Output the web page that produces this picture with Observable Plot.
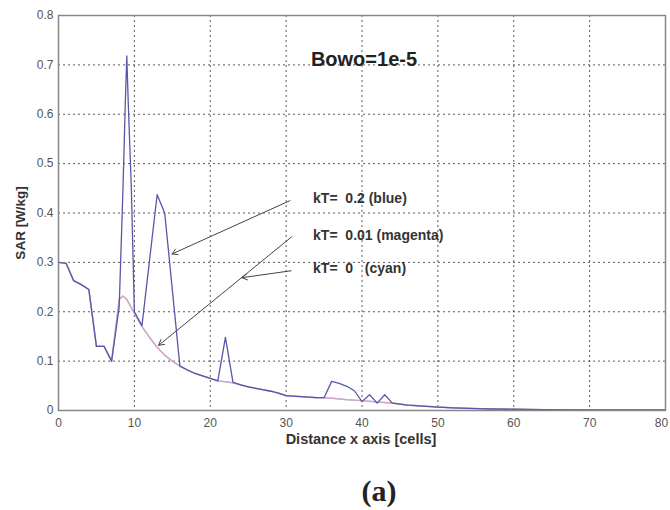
<!DOCTYPE html>
<html>
<head>
<meta charset="utf-8">
<script src="https://cdn.jsdelivr.net/npm/d3@7"></script>
<script src="https://cdn.jsdelivr.net/npm/@observablehq/plot@0.6"></script>
<style>
  body { margin: 0; background: white; position: relative; width: 670px; height: 510px; overflow: hidden; }
  #caption { position: absolute; left: 379px; top: 475px; transform: translateX(-50%);
    font-family: "Liberation Serif", "Times New Roman", serif; font-weight: bold; font-size: 30px; color: #222; line-height: 32px; }
</style>
</head>
<body>
<div id="chart"></div>
<div id="caption">(a)</div>
<script>
const xTicks = [0, 10, 20, 30, 40, 50, 60, 70, 80];
const yTicks = [0, 0.1, 0.2, 0.3, 0.4, 0.5, 0.6, 0.7, 0.8];

// kT = 0.2 (blue)
const blueX = [0,1,2,3,4,5,6,7,8,8.5,8.8,9,9.2,9.6,10,11,13,14,16,17,18,19,20,21,22,23,24,25,26,27,28,29,30,31,32,33,34,35,36,37,38,39,40,41,42,43,44,45,46,47,48,49,50,52,55,57,60,64,70,80];
const blueY = [0.30,0.298,0.263,0.255,0.245,0.13,0.13,0.10,0.21,0.45,0.62,0.718,0.62,0.45,0.20,0.172,0.437,0.40,0.09,0.082,0.075,0.07,0.065,0.06,0.148,0.057,0.052,0.048,0.045,0.042,0.039,0.035,0.030,0.029,0.028,0.027,0.026,0.026,0.059,0.055,0.049,0.04,0.018,0.032,0.015,0.032,0.015,0.013,0.011,0.010,0.009,0.008,0.007,0.0055,0.004,0.003,0.0025,0.0015,0.001,0.001];

// kT = 0.01 (magenta)
const magX = [0,1,2,3,4,5,6,7,8,8.5,9,10,11,12,13,14,15,16,17,18,19,20,21,22,23,24,25,26,27,28,29,30,31,32,33,34,35,36,38,40,42,44,45,46,47,48,49,50,52,55,57,60,64,70,80];
const magY = [0.30,0.298,0.263,0.255,0.245,0.13,0.13,0.10,0.225,0.232,0.225,0.197,0.17,0.148,0.128,0.112,0.10,0.09,0.082,0.075,0.07,0.065,0.06,0.058,0.056,0.052,0.048,0.045,0.042,0.039,0.035,0.030,0.029,0.028,0.027,0.026,0.026,0.025,0.022,0.02,0.017,0.015,0.013,0.011,0.010,0.009,0.008,0.007,0.0055,0.004,0.003,0.0025,0.0015,0.001,0.001];

// kT = 0 (cyan)
const cyanX = magX;
const cyanY = magY;

const labelText = ["kT=\u00a0 0.2 (blue)", "kT=\u00a0 0.01 (magenta)", "kT=\u00a0 0\u00a0\u00a0 (cyan)"];
const labelX = [33.55, 33.55, 33.55];
const labelY = [0.429, 0.354, 0.287];

const arrowX1 = [30.5, 30.75, 30.66];
const arrowY1 = [0.425, 0.352, 0.283];
const arrowX2 = [14.96, 13.2, 24.17];
const arrowY2 = [0.317, 0.132, 0.269];

const titleText = "Bowo=1e-5";
const titleX = 40.26, titleY = 0.71;

const xLabel = "Distance x axis [cells]";
const yLabel = "SAR [W/kg]";
const yLabelPos = 0.38;

const toRows = (xs, ys) => xs.map((x, i) => ({x, y: ys[i]}));
const blue = toRows(blueX, blueY);
const mag = toRows(magX, magY);
const cyan = toRows(cyanX, cyanY);
const labels = labelText.map((t, i) => ({t, x: labelX[i], y: labelY[i]}));
const arrows = arrowX1.map((x1, i) => ({x1, y1: arrowY1[i], x2: arrowX2[i], y2: arrowY2[i]}));

const xMain = xTicks.slice(0, -1);
const xLast = xTicks.slice(-1);

const chart = Plot.plot({
  width: 670,
  height: 465,
  marginLeft: 58,
  marginRight: 5,
  marginTop: 15,
  marginBottom: 55,
  style: {fontFamily: "'Liberation Sans', Arial, sans-serif", fontSize: "11px", background: "white", overflow: "visible"},
  x: {domain: [0, 80], label: null},
  y: {domain: [0, 0.8], label: null},
  marks: [
    Plot.gridX(xTicks, {stroke: "#333", strokeOpacity: 0.9, strokeDasharray: "2,3", strokeWidth: 0.9}),
    Plot.gridY(yTicks, {stroke: "#333", strokeOpacity: 0.9, strokeDasharray: "2,3", strokeWidth: 0.9}),
    Plot.axisX(xMain, {tickSize: 0, tickPadding: 8, tickFormat: d => String(d), fill: "#555", label: null, fontSize: 12}),
    Plot.axisX(xLast, {tickSize: 0, tickPadding: 8, tickFormat: d => String(d), fill: "#555", label: null, fontSize: 12, dx: -4}),
    Plot.axisY(yTicks, {tickSize: 0, tickPadding: 5, tickFormat: d => d === 0 ? "0" : d.toFixed(1), fill: "#555", label: null, fontSize: 12}),
    Plot.text([xLabel], {frameAnchor: "bottom", dy: 33, dx: -1, fontWeight: "bold", fontSize: 14.5, fill: "#333"}),
    Plot.text([yLabel], {x: 0, y: yLabelPos, dx: -38, rotate: -90, fontWeight: "bold", fontSize: 13.5, fill: "#333"}),
    Plot.line(cyan, {x: "x", y: "y", stroke: "#8fd6e0", strokeWidth: 1.2}),
    Plot.line(mag, {x: "x", y: "y", stroke: "#d9a3c6", strokeWidth: 1.5}),
    Plot.line(blue, {x: "x", y: "y", stroke: "#5858a8", strokeWidth: 1.3}),
    Plot.arrow(arrows, {x1: "x1", y1: "y1", x2: "x2", y2: "y2", stroke: "#444", strokeWidth: 1, headLength: 9}),
    Plot.text(labels, {x: "x", y: "y", text: "t", textAnchor: "start", fontWeight: "bold", fontSize: 14, fill: "#333"}),
    Plot.text([titleText], {x: titleX, y: titleY, fontWeight: "bold", fontSize: 20, fill: "#222"}),
    Plot.frame({stroke: "#888", strokeWidth: 1.5})
  ]
});
document.getElementById("chart").appendChild(chart);
</script>
</body>
</html>
